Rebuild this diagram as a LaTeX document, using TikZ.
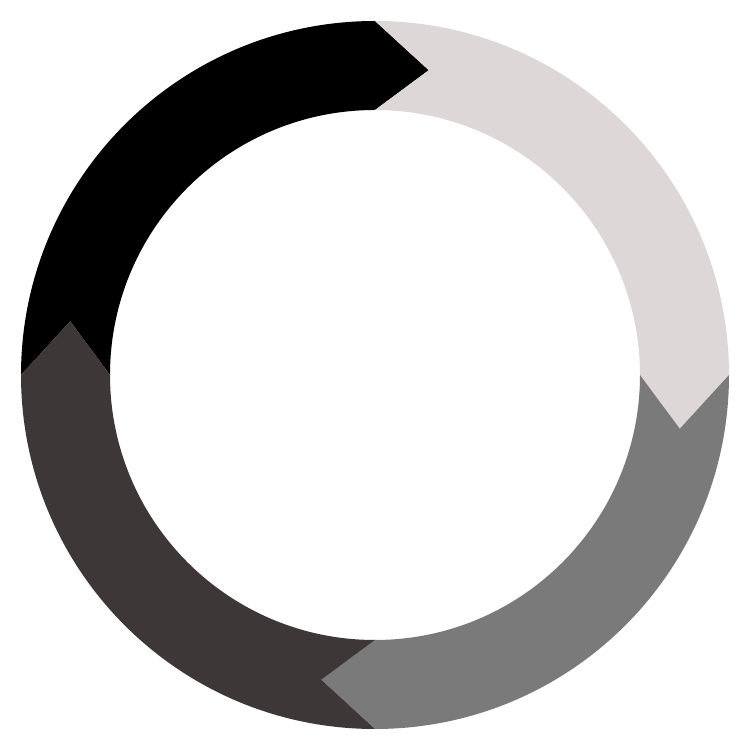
\documentclass[tikz,border=0pt]{standalone}
\definecolor{segA}{HTML}{000000}
\definecolor{segB}{HTML}{DDD7D7}
\definecolor{segC}{HTML}{7B7A7B}
\definecolor{segD}{HTML}{3E3738}
\tikzset{segfill/.style={fill=#1,draw=none}}
\begin{document}
\begin{tikzpicture}[x=1pt,y=1pt]
\useasboundingbox[fill=white] (0,0) rectangle (750,750);
\coordinate (c) at (375,375);
\def\Ro{354}\def\Ri{265}\def\Rm{309.5}
\foreach \s/\col in {180/segA,90/segB,0/segC,-90/segD}{
  \pgfmathsetmacro{\e}{\s-90}
  \pgfmathsetmacro{\et}{\s-100}
  \pgfmathsetmacro{\st}{\s-10}
  \fill[segfill=\col] ([shift={(\s:\Ro)}]c)
    arc[start angle=\s,end angle=\e,radius=\Ro]
    -- ([shift={(\et:\Rm)}]c)
    -- ([shift={(\e:\Ri)}]c)
    arc[start angle=\e,end angle=\s,radius=\Ri]
    -- ([shift={(\st:\Rm)}]c)
    -- cycle;
}
\end{tikzpicture}
\end{document}
